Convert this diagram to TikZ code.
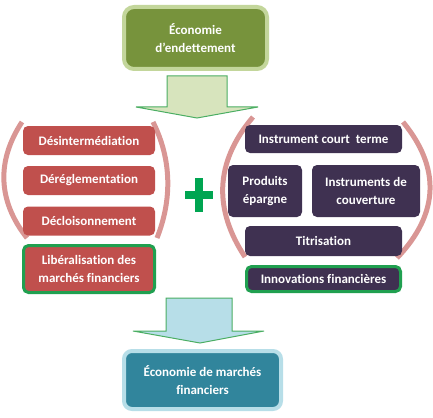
\documentclass[tikz,border=0pt]{standalone}
\usepackage{fontspec}
\setmainfont{Carlito}[Ligatures=NoCommon]
\definecolor{olivefill}{HTML}{77933C}
\definecolor{olivebord}{HTML}{C3D69B}
\definecolor{redfill}{HTML}{C0504D}
\definecolor{purpfill}{HTML}{3F3151}
\definecolor{tealfill}{HTML}{31859C}
\definecolor{tealbord}{HTML}{B7DEE8}
\definecolor{greenbord}{HTML}{20A050}
\definecolor{arrgreen}{HTML}{D7E4BD}
\definecolor{arrline}{HTML}{4BAE63}
\definecolor{brack}{HTML}{D99694}
\definecolor{plusgreen}{HTML}{00A551}
\tikzset{
  lbl/.style={text=white,font=\fontsize{13}{17.5}\selectfont\bfseries,align=center,inner sep=0pt,rounded corners=5pt},
  redbox/.style={lbl,fill=redfill,minimum width=132pt,minimum height=29pt},
  purpbox/.style={lbl,fill=purpfill},
  keybox/.style={line width=3pt,draw=greenbord},
  blockarrow/.style={draw=arrline,line width=1pt,line join=miter},
  brace/.style={draw=brack,line width=5pt},
}
\begin{document}
\begin{tikzpicture}[x=1pt,y=-1pt]
\useasboundingbox (0,0) rectangle (433,417);
% top box
\node[lbl,fill=olivefill,draw=olivebord,line width=4pt,rounded corners=10pt,minimum width=143pt,minimum height=62pt] (top) at (195.5,38) {Économie\\d’endettement};
% top arrow
\draw[blockarrow,fill=arrgreen] (167,76) -- (227,76) -- (227,107) -- (258,107) -- (197,118) -- (136,107) -- (167,107) -- cycle;
% left brackets
\draw[brace] (22,122) .. controls (-3,160) and (-3,200) .. (27,238);
\draw[brace] (153,122) .. controls (172,160) and (172,200) .. (157,238);
% red boxes
\node[redbox] (desint) at (89,140.5) {Désintermédiation};
\node[redbox] (dereg) at (89,180.5) {Déréglementation};
\node[redbox] (decl) at (89,221) {Décloisonnement};
\node[redbox,keybox,minimum width=131pt,minimum height=47pt] (lib) at (89,269) {Libéralisation des\\marchés financiers};
% plus
\coordinate (plus) at (199,195);
\draw[plusgreen,line width=8pt] ([xshift=-14pt]plus) -- ([xshift=14pt]plus);
\draw[plusgreen,line width=8pt] ([yshift=-17pt]plus) -- ([yshift=17pt]plus);
% right brackets
\draw[brace] (253,117) .. controls (214,163) and (214,210) .. (245,257);
\draw[brace] (403,122) .. controls (440,167) and (440,213) .. (397,258);
% purple boxes
\node[purpbox,minimum width=157pt,minimum height=28pt] (ict) at (323.5,139) {Instrument court\ \ terme};
\node[purpbox,minimum width=74pt,minimum height=52pt] (pe) at (265,191) {Produits\\épargne};
\node[purpbox,minimum width=108pt,minimum height=52pt] (ic) at (366,191) {Instruments de\\couverture};
\node[purpbox,minimum width=157pt,minimum height=30pt] (tit) at (323.5,241) {Titrisation};
\node[purpbox,keybox,minimum width=154pt,minimum height=25pt] (inno) at (323.5,279) {Innovations financières};
% bottom arrow
\draw[blockarrow,fill=tealbord] (166,298) -- (232,298) -- (232,331) -- (264,331) -- (200,343) -- (133,331) -- (166,331) -- cycle;
% bottom box
\node[lbl,fill=tealfill,draw=tealbord,line width=4pt,rounded corners=8pt,minimum width=157pt,minimum height=58pt] (bot) at (202.5,380) {Économie de marchés\\financiers};
\end{tikzpicture}
\end{document}
